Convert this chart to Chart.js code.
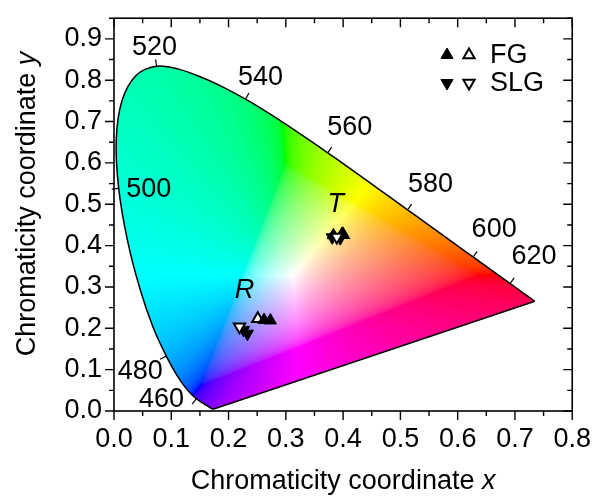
<!DOCTYPE html>
<html lang="en">
<head>
    <meta charset="UTF-8">
    <script src="https://cdn.jsdelivr.net/npm/chart.js"></script>
    <title>CIE 1931 chromaticity</title>
    <style>
        body { margin: 0; background: #fff; }
    </style>
</head>
<body>
    <canvas id="cieChart" width="593" height="497"></canvas>

    <script>
        // CIE 1931 spectral locus, 380-700 nm every 5 nm
        const locusNm = [380,385,390,395,400,405,410,415,420,425,430,435,440,445,450,455,460,465,470,475,
                         480,485,490,495,500,505,510,515,520,525,530,535,540,545,550,555,560,565,570,575,
                         580,585,590,595,600,605,610,615,620,625,630,635,640,645,650,655,660,665,670,675,
                         680,685,690,695,700];
        const locusX = [0.1741,0.1740,0.1738,0.1736,0.1733,0.1730,0.1726,0.1721,0.1714,0.1703,0.1689,0.1669,0.1644,0.1611,0.1566,0.1510,0.1440,0.1355,0.1241,0.1096,
                        0.0913,0.0687,0.0454,0.0235,0.0082,0.0039,0.0139,0.0389,0.0743,0.1142,0.1547,0.1929,0.2296,0.2658,0.3016,0.3373,0.3731,0.4087,0.4441,0.4788,
                        0.5125,0.5448,0.5752,0.6029,0.6270,0.6482,0.6658,0.6801,0.6915,0.7006,0.7079,0.7140,0.7190,0.7230,0.7260,0.7283,0.7300,0.7311,0.7320,0.7327,
                        0.7334,0.7340,0.7344,0.7346,0.7347];
        const locusY = [0.0050,0.0050,0.0049,0.0049,0.0048,0.0048,0.0048,0.0048,0.0051,0.0058,0.0069,0.0086,0.0109,0.0138,0.0177,0.0227,0.0297,0.0399,0.0578,0.0868,
                        0.1327,0.2007,0.2950,0.4127,0.5384,0.6548,0.7502,0.8120,0.8338,0.8262,0.8059,0.7816,0.7543,0.7243,0.6923,0.6589,0.6245,0.5896,0.5547,0.5202,
                        0.4866,0.4544,0.4242,0.3965,0.3725,0.3514,0.3340,0.3197,0.3083,0.2993,0.2920,0.2859,0.2809,0.2770,0.2740,0.2717,0.2700,0.2689,0.2680,0.2673,
                        0.2666,0.2660,0.2656,0.2654,0.2653];

        // wavelengths that get a label on the locus
        const markedNm = [460, 480, 500, 520, 540, 560, 580, 600, 620];

        // measured colour coordinates
        const fgFilled  = [[0.262, 0.220], [0.273, 0.219], [0.383, 0.425], [0.398, 0.428]];
        const fgOpen    = [[0.251, 0.223], [0.400, 0.426]];
        const slgFilled = [[0.226, 0.196], [0.233, 0.187], [0.381, 0.420], [0.395, 0.418]];
        const slgOpen   = [[0.219, 0.204], [0.389, 0.421]];

        // sample labels
        const sampleNames = ['R', 'T'];
        const sampleLabelXY = [[0.228, 0.273], [0.387, 0.481]];

        const FONT = 'Arial, "Liberation Sans", sans-serif';
        const FS = 27;

        // label offsets (px) from the locus point, in the same order as markedNm
        const wlLabelOffset = [[-35, 0], [-26, 14], [30, 0], [-2, -20], [15, -23], [22, -26], [23, -26], [21, -28], [24, -28]];

        const toPts = arr => arr.map(p => ({x: p[0], y: p[1]}));
        const locusPts = locusX.map((x, i) => ({x: x, y: locusY[i]}));
        const purplePts = [
            {x: locusX[locusX.length - 1], y: locusY[locusY.length - 1]},
            {x: locusX[0], y: locusY[0]}
        ];

        function xyToRgb(x, y) {
            const X = x / y, Y = 1, Z = (1 - x - y) / y;
            let r = 3.2406 * X - 1.5372 * Y - 0.4986 * Z;
            let g = -0.9689 * X + 1.8758 * Y + 0.0415 * Z;
            let b = 0.0557 * X - 0.2040 * Y + 1.0570 * Z;
            const mn = Math.min(r, g, b);
            if (mn < 0) { r -= mn; g -= mn; b -= mn; }
            const mx = Math.max(r, g, b);
            const gam = c => {
                c = c / mx;
                c = c <= 0.0031308 ? 12.92 * c : 1.055 * Math.pow(c, 1 / 2.4) - 0.055;
                return Math.round(Math.max(0, Math.min(1, c)) * 255);
            };
            return [gam(r), gam(g), gam(b)];
        }

        // clip path = the drawn (smoothed) locus line, closed by the purple line
        function locusPath(chart, ctx) {
            const line = chart.getDatasetMeta(0).dataset;
            line.updateControlPoints(chart.chartArea);
            ctx.beginPath();
            line.path(ctx);
            ctx.closePath();
        }

        // paints the horseshoe with chromaticity colours
        const gamutFill = {
            id: 'gamutFill',
            beforeDatasetsDraw(chart) {
                const {ctx, chartArea} = chart;
                const xs = chart.scales.x, ys = chart.scales.y;
                const left = Math.floor(chartArea.left), top = Math.floor(chartArea.top);
                const w = Math.ceil(chartArea.right) - left, h = Math.ceil(chartArea.bottom) - top;
                const off = document.createElement('canvas');
                off.width = w; off.height = h;
                const octx = off.getContext('2d');
                const img = octx.createImageData(w, h);
                for (let j = 0; j < h; j++) {
                    const y = ys.getValueForPixel(top + j + 0.5);
                    for (let i = 0; i < w; i++) {
                        const x = xs.getValueForPixel(left + i + 0.5);
                        const k = (j * w + i) * 4;
                        if (y <= 0.002) { img.data[k + 3] = 0; continue; }
                        const c = xyToRgb(x, y);
                        img.data[k] = c[0]; img.data[k + 1] = c[1]; img.data[k + 2] = c[2]; img.data[k + 3] = 255;
                    }
                }
                octx.putImageData(img, 0, 0);
                ctx.save();
                locusPath(chart, ctx);
                ctx.clip();
                ctx.drawImage(off, left, top);
                ctx.restore();
            }
        };

        // wavelength ticks + labels, sample names, legend, frame, axis ticks, titles
        const decorations = {
            id: 'decorations',
            afterDatasetsDraw(chart) {
                const {ctx} = chart;
                const xs = chart.scales.x, ys = chart.scales.y;
                const cx = xs.getPixelForValue(0.33), cy = ys.getPixelForValue(0.33);
                ctx.save();
                ctx.strokeStyle = '#000';
                ctx.fillStyle = '#000';
                ctx.lineWidth = 1.2;
                ctx.font = FS + 'px ' + FONT;
                ctx.textAlign = 'center';
                ctx.textBaseline = 'middle';
                markedNm.forEach((nm, n) => {
                    const i = locusNm.indexOf(nm);
                    const px = xs.getPixelForValue(locusX[i]), py = ys.getPixelForValue(locusY[i]);
                    const ax = xs.getPixelForValue(locusX[i - 1]), ay = ys.getPixelForValue(locusY[i - 1]);
                    const bx = xs.getPixelForValue(locusX[i + 1]), by = ys.getPixelForValue(locusY[i + 1]);
                    let nx = by - ay, ny = -(bx - ax);
                    const len = Math.hypot(nx, ny);
                    nx /= len; ny /= len;
                    if (nx * (px - cx) + ny * (py - cy) < 0) { nx = -nx; ny = -ny; }
                    ctx.beginPath();
                    ctx.moveTo(px, py);
                    ctx.lineTo(px + nx * 7, py + ny * 7);
                    ctx.stroke();
                    const o = wlLabelOffset[n];
                    ctx.fillText(String(nm), px + o[0], py + o[1] + 1);
                });

                ctx.font = 'italic ' + FS + 'px ' + FONT;
                ctx.textBaseline = 'alphabetic';
                sampleNames.forEach((s, n) => {
                    ctx.fillText(s, xs.getPixelForValue(sampleLabelXY[n][0]), ys.getPixelForValue(sampleLabelXY[n][1]));
                });
                ctx.restore();
            },
            afterDraw(chart) {
                const {ctx, chartArea} = chart;
                const xs = chart.scales.x, ys = chart.scales.y;
                const {left, right, top, bottom} = chartArea;
                ctx.save();
                ctx.strokeStyle = '#000';
                ctx.lineWidth = 1.6;
                ctx.strokeRect(left, top, right - left, bottom - top);

                // ticks: major every 0.1, minor every 0.05; outward bottom/left, inward top/right
                ctx.lineWidth = 1.4;
                ctx.beginPath();
                for (let k = 0; k <= 16; k++) {
                    const px = xs.getPixelForValue(k * 0.05);
                    const l = k % 2 === 0 ? 9 : 5;
                    ctx.moveTo(px, bottom); ctx.lineTo(px, bottom + l);
                    ctx.moveTo(px, top); ctx.lineTo(px, top + l);
                }
                for (let k = 0; k <= 19; k++) {
                    const py = ys.getPixelForValue(k * 0.05);
                    const l = k % 2 === 0 ? 9 : 5;
                    ctx.moveTo(left, py); ctx.lineTo(left - l, py);
                    ctx.moveTo(right, py); ctx.lineTo(right - l, py);
                }
                ctx.stroke();

                // legend
                const rows = [
                    {label: 'FG', rot: 0, y: 55},
                    {label: 'SLG', rot: 180, y: 83}
                ];
                rows.forEach(r => {
                    ctx.fillStyle = '#000';
                    ctx.strokeStyle = '#000';
                    ctx.lineWidth = 1;
                    Chart.helpers.drawPoint(ctx, {pointStyle: 'triangle', radius: 7, rotation: r.rot, borderWidth: 1}, 447, r.y);
                    ctx.fillStyle = '#fff';
                    ctx.lineWidth = 2;
                    Chart.helpers.drawPoint(ctx, {pointStyle: 'triangle', radius: 6.5, rotation: r.rot, borderWidth: 2}, 469, r.y);
                    ctx.fillStyle = '#000';
                    ctx.font = FS + 'px ' + FONT;
                    ctx.textAlign = 'left';
                    ctx.textBaseline = 'middle';
                    ctx.fillText(r.label, 490, r.y + 1);
                });

                // axis titles with italic variable
                ctx.fillStyle = '#000';
                ctx.textBaseline = 'alphabetic';
                const drawTitle = (base, v, x, y, rotate) => {
                    ctx.save();
                    ctx.translate(x, y);
                    if (rotate) ctx.rotate(-Math.PI / 2);
                    ctx.font = FS + 'px ' + FONT;
                    const w1 = ctx.measureText(base).width;
                    ctx.font = 'italic ' + FS + 'px ' + FONT;
                    const w2 = ctx.measureText(v).width;
                    const start = -(w1 + w2) / 2;
                    ctx.textAlign = 'left';
                    ctx.font = FS + 'px ' + FONT;
                    ctx.fillText(base, start, 0);
                    ctx.font = 'italic ' + FS + 'px ' + FONT;
                    ctx.fillText(v, start + w1, 0);
                    ctx.restore();
                };
                drawTitle('Chromaticity coordinate ', 'x', (left + right) / 2, 489, false);
                drawTitle('Chromaticity coordinate ', 'y', 35, 204, true);
                ctx.restore();
            }
        };

        const tickFont = {family: FONT, size: FS};

        new Chart(document.getElementById('cieChart').getContext('2d'), {
            type: 'scatter',
            data: {
                datasets: [
                    {
                        data: locusPts, showLine: true, borderColor: '#000', borderWidth: 1.5,
                        pointRadius: 0, fill: false, tension: 0.35
                    },
                    {
                        data: purplePts, showLine: true, borderColor: '#000', borderWidth: 1.5,
                        pointRadius: 0, fill: false, tension: 0
                    },
                    {
                        label: 'SLG open', data: toPts(slgOpen), pointStyle: 'triangle', rotation: 180,
                        pointRadius: 6.5, backgroundColor: '#fff', borderColor: '#000', borderWidth: 2
                    },
                    {
                        label: 'SLG', data: toPts(slgFilled), pointStyle: 'triangle', rotation: 180,
                        pointRadius: 7, backgroundColor: '#000', borderColor: '#000', borderWidth: 1
                    },
                    {
                        label: 'FG', data: toPts(fgFilled), pointStyle: 'triangle',
                        pointRadius: 7, backgroundColor: '#000', borderColor: '#000', borderWidth: 1
                    },
                    {
                        label: 'FG open', data: toPts(fgOpen), pointStyle: 'triangle',
                        pointRadius: 6.5, backgroundColor: '#fff', borderColor: '#000', borderWidth: 2
                    }
                ]
            },
            options: {
                responsive: false,
                animation: false,
                layout: { padding: { top: 14, right: 20, left: 0, bottom: 0 } },
                plugins: { legend: { display: false }, tooltip: { enabled: false } },
                scales: {
                    x: {
                        type: 'linear', min: 0, max: 0.8,
                        ticks: { stepSize: 0.1, includeBounds: false, color: '#000', font: tickFont, padding: 2, maxRotation: 0,
                                 callback: v => v.toFixed(1) },
                        grid: { display: false, drawTicks: true, tickLength: 10 },
                        border: { display: false },
                        afterFit: s => { s.height = 86; }
                    },
                    y: {
                        type: 'linear', min: 0, max: 0.95,
                        ticks: { stepSize: 0.1, includeBounds: false, color: '#000', font: tickFont, padding: 2,
                                 callback: v => v.toFixed(1) },
                        grid: { display: false, drawTicks: true, tickLength: 10 },
                        border: { display: false },
                        afterFit: s => { s.width = 114; }
                    }
                }
            },
            plugins: [gamutFill, decorations]
        });
    </script>
</body>
</html>
